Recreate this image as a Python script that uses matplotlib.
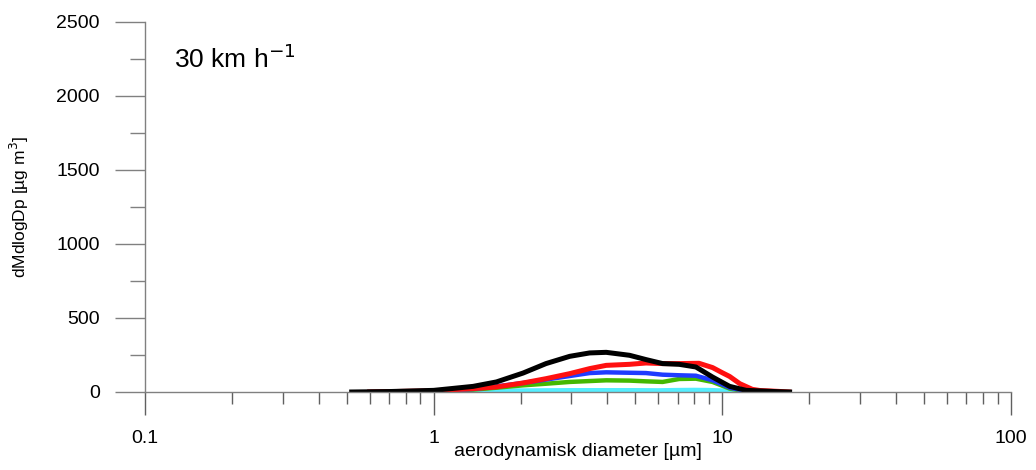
import matplotlib.pyplot as plt
import numpy as np

plt.rcParams['font.family'] = ['Liberation Sans', 'DejaVu Sans']

# diameters [um]
d_black = [0.52, 0.7, 1.0, 1.37, 1.65, 2.04, 2.45, 2.96, 3.47, 3.96, 4.77, 5.44, 6.21, 7.09, 8.1, 9.25, 10.6, 12.1, 15.7, 17.1]
m_black = [0, 3, 11, 38, 68, 128, 192, 241, 264, 268, 248, 219, 192, 187, 169, 101, 38, 11, 2, 0]

d_red = [0.6, 1.0, 1.37, 1.65, 2.04, 2.45, 2.96, 3.47, 3.96, 4.77, 5.44, 6.21, 7.09, 8.3, 9.25, 10.0, 10.6, 11.5, 12.7, 13.5, 15.7, 17.0]
m_red = [0, 8, 23, 34, 61, 90, 124, 158, 180, 187, 196, 192, 192, 194, 165, 130, 105, 56, 18, 10, 4, 0]

d_blue = [0.6, 1.0, 1.37, 1.65, 2.04, 2.45, 2.96, 3.47, 3.96, 4.77, 5.44, 6.21, 7.09, 8.1, 9.25, 10.6, 12.1, 15.7]
m_blue = [0, 7, 20, 38, 61, 84, 108, 128, 133, 130, 128, 117, 113, 110, 79, 29, 7, 0]

d_green = [0.6, 1.0, 1.37, 1.65, 2.04, 2.45, 2.96, 3.47, 3.96, 4.77, 5.44, 6.21, 7.09, 8.1, 9.25, 10.6, 12.1, 15.7]
m_green = [0, 5, 16, 29, 45, 56, 68, 74, 79, 77, 72, 68, 88, 90, 68, 23, 5, 0]

d_cyan = [0.8, 1.2, 1.6, 2.0, 3.0, 4.0, 5.0, 6.0, 7.0, 8.0, 9.0, 10.5, 12.0, 14.0]
m_cyan = [0, 4, 8, 10, 12, 12, 12, 11, 13, 14, 13, 8, 3, 0]

xticks = [0.1, 1, 10, 100]
xticklabels = ['0.1', '1', '10', '100']
yticks = [0, 500, 1000, 1500, 2000, 2500]

fig = plt.figure(figsize=(10.36, 4.70), dpi=100)
ax = fig.add_axes([145/1036, 78/470, 866/1036, 370/470])

ax.plot(d_cyan, m_cyan, color='#55eeff', lw=3.2)
ax.plot(d_green, m_green, color='#44b800', lw=3.2)
ax.plot(d_blue, m_blue, color='#1f3bff', lw=3.2)
ax.plot(d_red, m_red, color='#ff1010', lw=3.6)
ax.plot(d_black, m_black, color='black', lw=3.6)

ax.set_xscale('log')
ax.set_xlim(0.1, 100)
ax.set_ylim(0, 2500)
ax.set_xticks(xticks)
ax.set_xticklabels(xticklabels)
ax.set_yticks(yticks)
ax.set_yticks(np.arange(250, 2500, 500), minor=True)

for s in ['top', 'right']:
    ax.spines[s].set_visible(False)
for s in ['left', 'bottom']:
    ax.spines[s].set_color('#808080')
    ax.spines[s].set_linewidth(1)

ax.tick_params(axis='x', which='major', direction='out', length=16.5, width=1, color='#606060', pad=11, labelsize=14)
ax.tick_params(axis='x', which='minor', direction='out', length=8.5, width=1, color='#606060')
ax.tick_params(axis='y', which='major', direction='out', length=21.5, width=1, color='#808080', pad=11, labelsize=14)
ax.tick_params(axis='y', which='minor', direction='out', length=11, width=1, color='#808080')

ax.set_xlabel('aerodynamisk diameter [µm]', fontsize=14, labelpad=-3)
ax.set_ylabel('dMdlogDp [µg m$^{3}$]', fontsize=12.5, labelpad=18)

ax.text(0.033, 0.94, '30 km h$^{-1}$', transform=ax.transAxes, fontsize=19, va='top', ha='left')

fig.savefig('out.png', dpi=100)
